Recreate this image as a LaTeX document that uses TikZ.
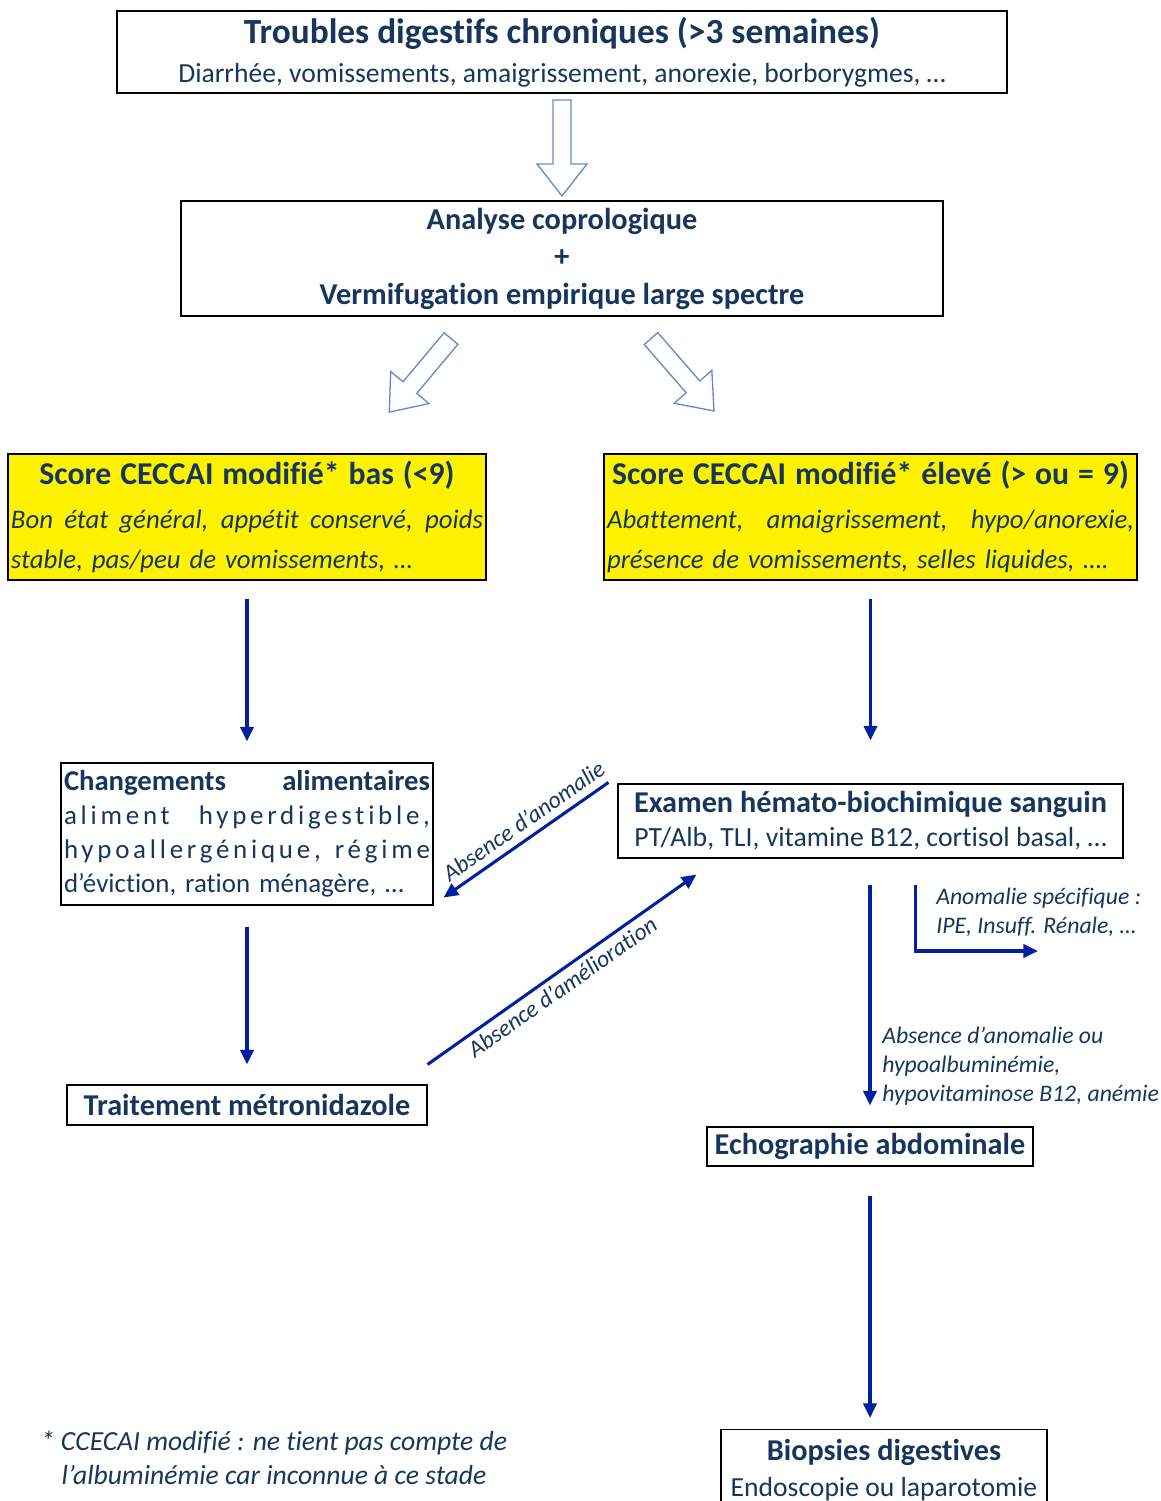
\documentclass[tikz,border=0pt]{standalone}
\usepackage{fontspec}
\setmainfont{Carlito}[Ligatures=NoCommon]
\usetikzlibrary{arrows.meta}

\definecolor{navy}{RGB}{23,54,93}
\definecolor{flowblue}{RGB}{0,32,160}
\definecolor{ghost}{RGB}{100,140,200}

% justified line across the node
\newcommand\jline[1]{\makebox[\hsize][s]{\spaceskip=0pt\xspaceskip=0pt #1}}

\tikzset{
  box/.style={draw, line width=0.8pt, inner sep=0pt, text=navy, align=center},
  scorebox/.style={box, fill=yellow, align=left, text width=#1, font=\itshape\fontsize{20.1}{30}\selectfont},
  link/.style={flowblue, line width=2.3pt, -{Triangle[length=11pt,width=10pt]}},
  note/.style={text=navy, inner sep=0pt, align=left, font=\itshape\fontsize{17.8}{21.75}\selectfont},
  fatarrow/.pic={
    \draw[ghost, line width=1pt, fill=white] (0,-9) -- (64,-9) -- (64,-25) -- (96,0) -- (64,25) -- (64,9) -- (0,9) -- cycle;
  }
}

\begin{document}
\begin{tikzpicture}[x=0.75pt, y=-0.75pt]
\useasboundingbox (0,0) rectangle (1160,1501);

% Haut du schema
\node[box, line width=1.5pt, minimum width=667.5pt, minimum height=61.5pt, font=\fontsize{20.7}{29.5}\selectfont] (troubles) at (562,52)
  {{\bfseries\fontsize{26.5}{30}\selectfont Troubles digestifs chroniques (>3 semaines)}\\
   Diarrhée, vomissements, amaigrissement, anorexie, borborygmes, …};

\node[box, minimum width=571.5pt, minimum height=86.25pt, font=\bfseries\fontsize{22.75}{28.1}\selectfont] (copro) at (562,258.5)
  {Analyse coprologique\\+\\Vermifugation empirique large spectre};

\pic[rotate=-90] at ([yshift=-4.5pt]troubles.south) {fatarrow};
\pic[rotate=-130] at ([xshift=-83.25pt,yshift=-16.5pt]copro.south) {fatarrow};
\pic[rotate=-49] at ([xshift=66.75pt,yshift=-16.5pt]copro.south) {fatarrow};

% Scores
\node[scorebox=354pt, minimum width=358.5pt, minimum height=94.5pt] (bas) at (247,517)
  {\makebox[\hsize]{\upshape\bfseries\fontsize{23.8}{28}\selectfont Score CECCAI modifié* bas (<9)}\\[3pt]
   \jline{Bon état général, appétit conservé, poids}\\
   stable, pas/peu de vomissements, …};

\node[scorebox=395.25pt, minimum width=399.75pt, minimum height=94.5pt] (haut) at (870.5,517)
  {\makebox[\hsize]{\upshape\bfseries\fontsize{23.8}{28}\selectfont Score CECCAI modifié* élevé (> ou = 9)}\\[3pt]
   \jline{Abattement,  amaigrissement,  hypo/anorexie,}\\
   présence de vomissements, selles liquides, ….};

% Branche gauche
\node[box, align=left, text width=274.5pt, minimum width=279pt, minimum height=106.5pt, font=\fontsize{20.2}{25.5}\selectfont] (chg) at (247,834)
  {\jline{\bfseries\fontsize{21.5}{25.5}\selectfont Changements alimentaires}\\
   \jline{\addfontfeature{LetterSpace=14}aliment hyperdigestible,}\\
   \jline{\addfontfeature{LetterSpace=14}hypoallergénique, régime}\\
   d’éviction, ration ménagère, …};

\node[box, minimum width=270pt, minimum height=30pt, font=\bfseries\fontsize{22.7}{26}\selectfont] (metro) at (247,1105)
  {Traitement métronidazole};

% Branche droite
\node[box, minimum width=378.75pt, minimum height=55.5pt, font=\fontsize{20.8}{25.5}\selectfont] (exam) at (870.5,821)
  {{\bfseries\fontsize{22.7}{25.5}\selectfont Examen hémato-biochimique sanguin}\\
   PT/Alb, TLI, vitamine B12, cortisol basal, …};

\node[box, minimum width=244.5pt, minimum height=29.25pt, font=\bfseries\fontsize{22.7}{26}\selectfont] (echo) at (870,1146.5)
  {Echographie abdominale};

\node[box, anchor=north, minimum width=244.5pt, minimum height=61.5pt, font=\fontsize{20.7}{27}\selectfont] (biopsie) at (884,1429)
  {{\bfseries\fontsize{22.7}{27}\selectfont Biopsies digestives}\\
   Endoscopie ou laparotomie};

\coordinate (ipe) at (1038,951);

% Fleches
\draw[link] ([yshift=-13.5pt]bas.south) -- ([yshift=15.75pt]chg.north);
\draw[link] ([yshift=-13.5pt]haut.south) -- ([yshift=32.25pt]exam.north);
\draw[link] ([yshift=-15.75pt]chg.south) -- ([yshift=15pt]metro.north);
\draw[link] ([xshift=-6.75pt,yshift=0.75pt]exam.north west) -- node[pos=0.455, sloped, above, note, inner sep=5.5pt] {Absence d’anomalie} ([xshift=7.5pt,yshift=6pt]chg.south east);
\draw[link] ([yshift=15pt]metro.north east) -- node[pos=0.47, sloped, below, note, inner sep=3.5pt] {Absence d’amélioration} ([xshift=59.25pt,yshift=-12pt]exam.south west);
\draw[link] ([yshift=-19.5pt]echo.north |- exam.south) -- ([yshift=15.75pt]echo.north);
\draw[link] ([xshift=33.4pt,yshift=-19.5pt]exam.south) |- (ipe);
\draw[link] ([yshift=-21.75pt]echo.south) -- ([yshift=8.25pt]echo.south |- biopsie.north);

% Commentaires
\node[note, anchor=north west] (specif) at (936,888) {Anomalie spécifique :\\IPE, Insuff. Rénale, …};
\node[note, anchor=north west] (normal) at (882,1027) {Absence d’anomalie ou\\hypoalbuminémie,\\hypovitaminose B12, anémie};
\node[note, align=center, font=\itshape\fontsize{20.7}{25.5}\selectfont] (renvoi) at (274,1458)
  {* CCECAI modifié : ne tient pas compte de\\l’albuminémie car inconnue à ce stade};
\end{tikzpicture}
\end{document}
